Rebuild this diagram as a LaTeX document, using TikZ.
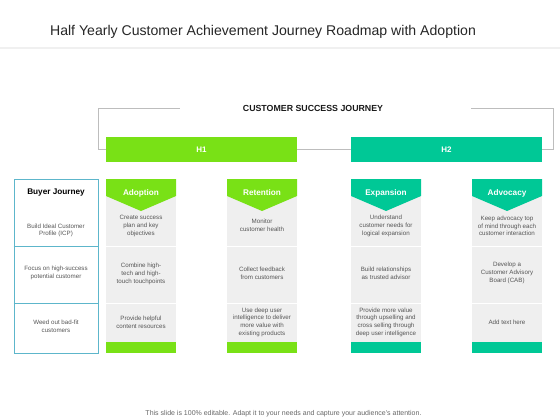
\documentclass[tikz,border=0pt]{standalone}
\usepackage{fontspec}
\setmainfont{Liberation Sans}
\definecolor{limeg}{HTML}{79E116}
\definecolor{tealg}{HTML}{00C896}
\definecolor{bjblue}{HTML}{5DB6CB}
\definecolor{cellgray}{HTML}{EFEFEF}
\definecolor{txtgray}{HTML}{555555}
\definecolor{brk}{HTML}{BDBDBD}
\begin{document}
\begin{tikzpicture}[x=1pt,y=-1pt,
  bracket/.style={draw=brk,line width=0.8pt},
  phase/.style={draw=none,minimum width=191pt,minimum height=25pt,inner sep=0pt,text=white,font=\fontsize{8}{9}\selectfont\bfseries},
  cell/.style={align=center,text=txtgray,font=\fontsize{6.2}{7.7}\selectfont,inner sep=0pt},
  hdr/.style={text=white,font=\fontsize{8.2}{9}\selectfont\bfseries,inner sep=0pt},
  sep/.style={draw=white,line width=1pt}
]
\useasboundingbox (0,0) rectangle (560,420);
% title
\node[font=\fontsize{14.1}{16}\selectfont,text=black!85] (title) at (263,32) {Half Yearly Customer Achievement Journey Roadmap with Adoption};
\draw[draw=black!6,line width=1.5pt] (0,48) -- (560,48);
% bracket heading
\node[font=\fontsize{8.8}{10}\selectfont\bfseries,text=black!90] (csj) at (313,108) {CUSTOMER SUCCESS JOURNEY};
\node[phase,fill=limeg,minimum width=191pt] (h1) at (201.5,149.5) {H1};
\node[phase,fill=tealg,minimum width=191pt] (h2) at (446.5,149.5) {H2};
\coordinate (lt) at (98,108);
\coordinate (lte) at (180,108);
\coordinate (rt) at (553,108);
\coordinate (rts) at (471,108);
\draw[bracket] (h1.west) -| (lt) -- (lte);
\draw[bracket] (h2.east) -| (rt) -- (rts);
\draw[bracket] (h1.east) -- (h2.west);
% buyer journey box
\node[draw=bjblue,line width=0.8pt,minimum width=84pt,minimum height=174pt,inner sep=0pt] (bj) at (56,266) {};
\draw[draw=bjblue,line width=0.8pt] (bj.west |- 0,246) coordinate (bjs1) -- (bj.east |- 0,246) coordinate (bje1);
\draw[draw=bjblue,line width=0.8pt] (bj.west |- 0,303) coordinate (bjs2) -- (bj.east |- 0,303) coordinate (bje2);
\node[font=\fontsize{8.2}{9}\selectfont\bfseries,text=black] (bjt) at (56,193) {Buyer Journey};
\node[cell] (bj1) at (56,230.5) {Build Ideal Customer\\Profile (ICP)};
\node[cell] (bj2) at (56,273) {Focus on high-success\\potential customer};
\node[cell] (bj3) at (56,326.5) {Weed out bad-fit\\customers};
% columns
\foreach \x/\c/\n/\t in {106/limeg/ad/Adoption,227/limeg/re/Retention,351/tealg/ex/Expansion,472/tealg/av/Advocacy}{
  \fill[cellgray] (\x,179) rectangle (\x+70,342);
  \fill[\c] (\x,342) rectangle (\x+70,353);
  \fill[\c] (\x,179) -- (\x+70,179) -- (\x+70,196) -- (\x+35,211) -- (\x,196) -- cycle;
  \draw[sep] (\x,246) -- (\x+70,246);
  \draw[sep] (\x,303) -- (\x+70,303);
  \node[hdr] (\n h) at (\x+35,193) {\t};
}
\node[cell] (ad1) at (141,226) {Create success\\plan and key\\objectives};
\node[cell] (ad2) at (141,274) {Combine high-\\tech and high-\\touch touchpoints};
\node[cell] (ad3) at (141,322) {Provide helpful\\content resources};
\node[cell] (re1) at (262,225.5) {Monitor\\customer health};
\node[cell] (re2) at (262,273) {Collect feedback\\from customers};
\node[cell] (re3) at (262,322) {Use deep user\\intelligence to deliver\\more value with\\existing products};
\node[cell] (ex1) at (386,226) {Understand\\customer needs for\\logical expansion};
\node[cell] (ex2) at (386,273) {Build relationships\\as trusted advisor};
\node[cell] (ex3) at (386,322) {Provide more value\\through upselling and\\cross selling through\\deep user intelligence};
\node[cell] (av1) at (507,226) {Keep advocacy top\\of mind through each\\customer interaction};
\node[cell] (av2) at (507,273) {Develop a\\Customer Advisory\\Board (CAB)};
\node[cell] (av3) at (507,322) {Add text here};
% footer
\node[font=\fontsize{7}{8}\selectfont,text=black!60] (foot) at (283.5,414) {This slide is 100\% editable. Adapt it to your needs and capture your audience's attention.};
\end{tikzpicture}
\end{document}
